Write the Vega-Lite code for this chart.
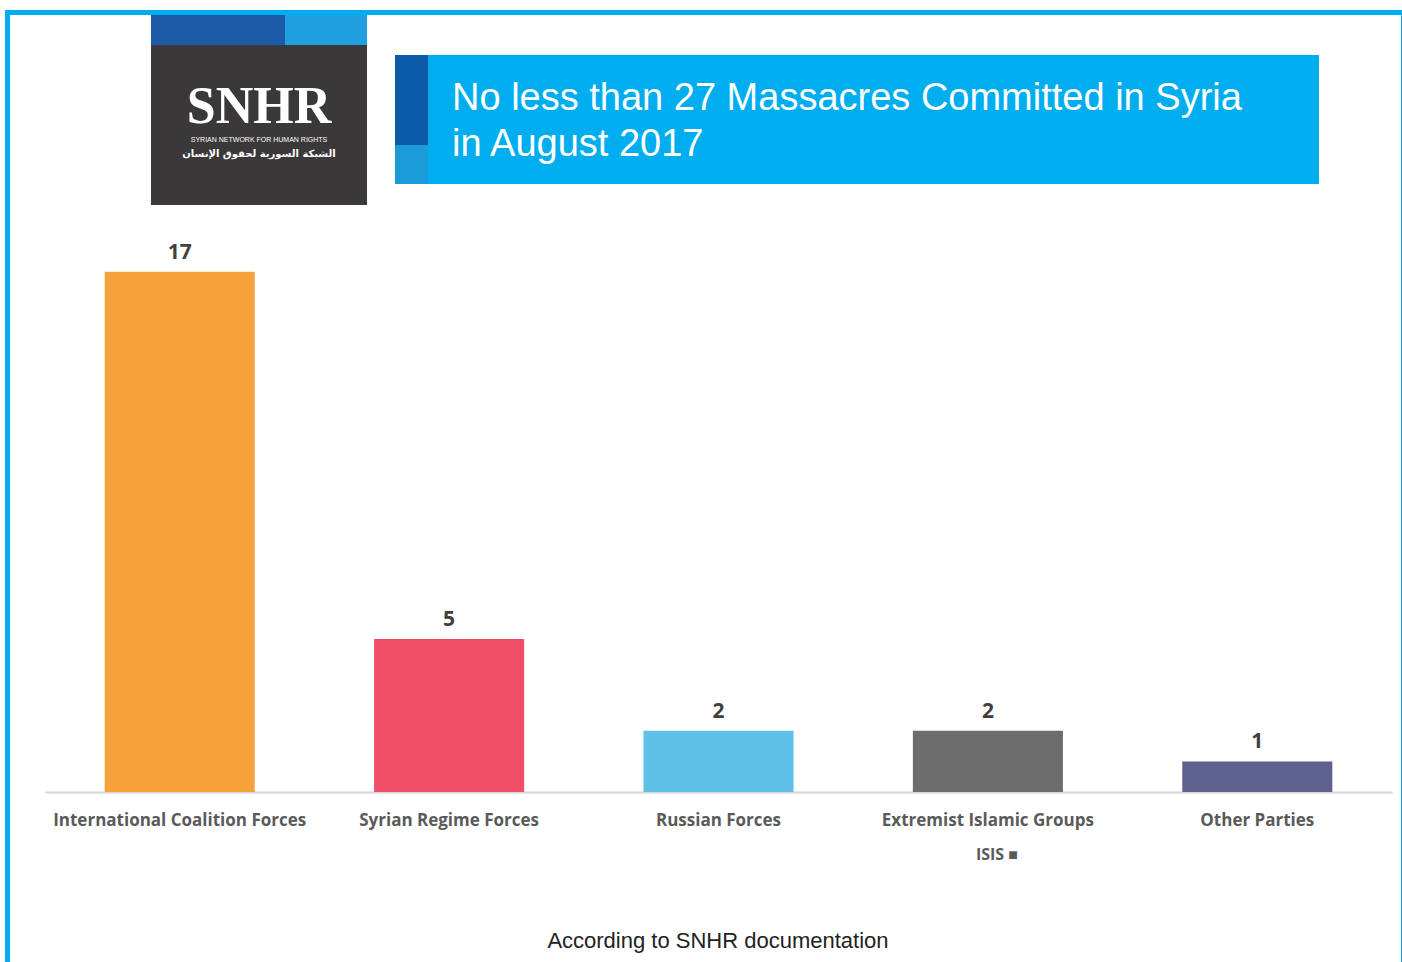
{
  "$schema": "https://vega.github.io/schema/vega-lite/v6.json",
  "width": 1347,
  "height": 612,
  "autosize": "none",
  "padding": {"left": 45, "top": 180, "right": 10, "bottom": 170},
  "background": "white",
  "config": {"view": {"stroke": null}},
  "datasets": {
    "massacres": [
      {"party": "International Coalition Forces", "count": 17, "note": ""},
      {"party": "Syrian Regime Forces", "count": 5, "note": ""},
      {"party": "Russian Forces", "count": 2, "note": ""},
      {"party": "Extremist Islamic Groups", "count": 2, "note": "ISIS ■"},
      {"party": "Other Parties", "count": 1, "note": ""}
    ],
    "one": [{"id": 1}]
  },
  "resolve": {"scale": {"x": "independent"}},
  "layer": [
    {
      "data": {"name": "one"},
      "mark": {"type": "rect", "fillOpacity": 0, "stroke": "#00aeef", "strokeWidth": 5},
      "encoding": {
        "x": {"datum": -0.1392, "type": "quantitative", "scale": {"domain": [0, 5]}, "axis": null},
        "x2": {"datum": 5.0427},
        "y": {"datum": 25.474, "type": "quantitative", "scale": {"domain": [0, 20]}, "axis": null},
        "y2": {"datum": -6}
      }
    },
    {
      "data": {"name": "one"},
      "mark": {"type": "rect", "color": "#3a3839"},
      "encoding": {
        "x": {"datum": 0.3934, "type": "quantitative", "scale": {"domain": [0, 5]}, "axis": null},
        "x2": {"datum": 1.1953},
        "y": {"datum": 24.412, "type": "quantitative", "axis": null},
        "y2": {"datum": 19.183}
      }
    },
    {
      "data": {"name": "one"},
      "mark": {"type": "rect", "color": "#1a5aa6"},
      "encoding": {
        "x": {"datum": 0.3934, "type": "quantitative", "scale": {"domain": [0, 5]}, "axis": null},
        "x2": {"datum": 0.8909},
        "y": {"datum": 25.392, "type": "quantitative", "axis": null},
        "y2": {"datum": 24.412}
      }
    },
    {
      "data": {"name": "one"},
      "mark": {"type": "rect", "color": "#1f9fe0"},
      "encoding": {
        "x": {"datum": 0.8909, "type": "quantitative", "scale": {"domain": [0, 5]}, "axis": null},
        "x2": {"datum": 1.1953},
        "y": {"datum": 25.392, "type": "quantitative", "axis": null},
        "y2": {"datum": 24.412}
      }
    },
    {
      "data": {"name": "one"},
      "mark": {"type": "text", "text": "SNHR", "font": "Liberation Serif", "fontWeight": "bold", "fontSize": 52, "color": "white", "align": "center", "baseline": "alphabetic"},
      "encoding": {
        "x": {"datum": 0.7944, "type": "quantitative", "scale": {"domain": [0, 5]}, "axis": null},
        "y": {"datum": 21.863, "type": "quantitative", "axis": null}
      }
    },
    {
      "data": {"name": "one"},
      "mark": {"type": "text", "text": "SYRIAN NETWORK FOR HUMAN RIGHTS", "font": "Liberation Sans", "fontSize": 7, "color": "white", "align": "center", "baseline": "alphabetic"},
      "encoding": {
        "x": {"datum": 0.7944, "type": "quantitative", "scale": {"domain": [0, 5]}, "axis": null},
        "y": {"datum": 21.242, "type": "quantitative", "axis": null}
      }
    },
    {
      "data": {"name": "one"},
      "mark": {"type": "text", "text": "الشبكة السورية لحقوق الإنسان", "font": "DejaVu Sans", "fontWeight": "bold", "fontSize": 10, "color": "white", "align": "center", "baseline": "alphabetic"},
      "encoding": {
        "x": {"datum": 0.7944, "type": "quantitative", "scale": {"domain": [0, 5]}, "axis": null},
        "y": {"datum": 20.752, "type": "quantitative", "axis": null}
      }
    },
    {
      "data": {"name": "one"},
      "mark": {"type": "rect", "color": "#00aeef"},
      "encoding": {
        "x": {"datum": 1.2992, "type": "quantitative", "scale": {"domain": [0, 5]}, "axis": null},
        "x2": {"datum": 4.729},
        "y": {"datum": 24.085, "type": "quantitative", "axis": null},
        "y2": {"datum": 19.869}
      }
    },
    {
      "data": {"name": "one"},
      "mark": {"type": "rect", "color": "#0b5ba8"},
      "encoding": {
        "x": {"datum": 1.2992, "type": "quantitative", "scale": {"domain": [0, 5]}, "axis": null},
        "x2": {"datum": 1.4217},
        "y": {"datum": 24.085, "type": "quantitative", "axis": null},
        "y2": {"datum": 21.144}
      }
    },
    {
      "data": {"name": "one"},
      "mark": {"type": "rect", "color": "#1a9ad6"},
      "encoding": {
        "x": {"datum": 1.2992, "type": "quantitative", "scale": {"domain": [0, 5]}, "axis": null},
        "x2": {"datum": 1.4217},
        "y": {"datum": 21.144, "type": "quantitative", "axis": null},
        "y2": {"datum": 19.869}
      }
    },
    {
      "data": {"name": "one"},
      "mark": {"type": "text", "text": ["No less than 27 Massacres Committed in Syria", "in August 2017"], "font": "Liberation Sans", "fontSize": 38, "lineHeight": 46, "color": "white", "align": "left", "baseline": "alphabetic"},
      "encoding": {
        "x": {"datum": 1.5108, "type": "quantitative", "scale": {"domain": [0, 5]}, "axis": null},
        "y": {"datum": 22.288, "type": "quantitative", "axis": null}
      }
    },
    {
      "data": {"name": "one"},
      "mark": {"type": "text", "text": "According to SNHR documentation", "font": "Liberation Sans", "fontSize": 22, "color": "#222222", "align": "center", "baseline": "alphabetic"},
      "encoding": {
        "x": {"datum": 2.498, "type": "quantitative", "scale": {"domain": [0, 5]}, "axis": null},
        "y": {"datum": -5.1, "type": "quantitative", "axis": null}
      }
    },
    {
      "data": {"name": "massacres"},
      "mark": {"type": "bar"},
      "encoding": {
        "x": {
          "field": "party",
          "type": "nominal",
          "sort": null,
          "scale": {"paddingInner": 0.443, "paddingOuter": 0.2215},
          "axis": {
            "title": null,
            "labelAngle": 0,
            "ticks": false,
            "tickSize": 0,
            "labelPadding": 28,
            "labelLimit": 0,
            "labelFont": "Open Sans",
            "labelFontWeight": "bold",
            "labelFontSize": 17,
            "labelColor": "#5a5a5a",
            "labelBaseline": "middle",
            "domainColor": "#d6d6d6",
            "domainWidth": 2,
            "grid": false
          }
        },
        "y": {"field": "count", "type": "quantitative", "scale": {"domain": [0, 20]}, "axis": null},
        "color": {
          "field": "party",
          "type": "nominal",
          "sort": null,
          "scale": {
            "domain": ["International Coalition Forces", "Syrian Regime Forces", "Russian Forces", "Extremist Islamic Groups", "Other Parties"],
            "range": ["#f7a13a", "#f04e66", "#5ec0e6", "#6d6d6d", "#5e6090"]
          },
          "legend": null
        }
      }
    },
    {
      "data": {"name": "massacres"},
      "mark": {"type": "text", "font": "Open Sans", "fontWeight": "bold", "fontSize": 21, "color": "#404040", "baseline": "alphabetic", "dy": -13},
      "encoding": {
        "x": {"field": "party", "type": "nominal", "sort": null, "scale": {"paddingInner": 0.443, "paddingOuter": 0.2215}, "axis": null},
        "y": {"field": "count", "type": "quantitative", "axis": null},
        "text": {"field": "count", "type": "quantitative"}
      }
    },
    {
      "data": {"name": "massacres"},
      "mark": {"type": "text", "font": "Open Sans", "fontWeight": "bold", "fontSize": 16, "color": "#5a5a5a", "baseline": "middle", "dx": 9},
      "encoding": {
        "x": {"field": "party", "type": "nominal", "sort": null, "scale": {"paddingInner": 0.443, "paddingOuter": 0.2215}, "axis": null},
        "y": {"datum": -2.05, "type": "quantitative", "axis": null},
        "text": {"field": "note", "type": "nominal"}
      }
    }
  ]
}
